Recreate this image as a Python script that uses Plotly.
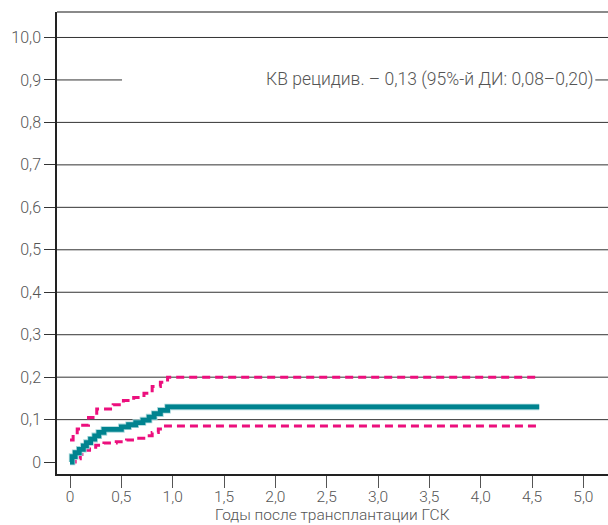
import plotly.graph_objects as go

# ---- data ----
time_cir = [0, 0.02, 0.05, 0.09, 0.13, 0.16, 0.20, 0.24, 0.28, 0.33, 0.50, 0.57, 0.64, 0.71, 0.77, 0.82, 0.88, 0.95, 4.57]
cir = [0.0, 0.013, 0.022, 0.030, 0.038, 0.046, 0.054, 0.062, 0.070, 0.077, 0.083, 0.088, 0.093, 0.099, 0.106, 0.114, 0.122, 0.130, 0.130]

time_up = [0.0, 0.03, 0.07, 0.10, 0.18, 0.26, 0.42, 0.52, 0.62, 0.72, 0.80, 0.88, 0.95, 4.57]
upper = [0.052, 0.064, 0.078, 0.087, 0.105, 0.125, 0.135, 0.145, 0.152, 0.162, 0.178, 0.188, 0.200, 0.200]

time_lo = [0.0, 0.05, 0.10, 0.14, 0.19, 0.25, 0.33, 0.45, 0.55, 0.65, 0.74, 0.80, 0.86, 0.93, 4.57]
lower = [0.0, 0.008, 0.018, 0.028, 0.035, 0.040, 0.045, 0.048, 0.052, 0.056, 0.062, 0.070, 0.078, 0.085, 0.085]

y_ticks = [0, 0.1, 0.2, 0.3, 0.4, 0.5, 0.6, 0.7, 0.8, 0.9, 1.0]
y_labels = ["0", "0,1", "0,2", "0,3", "0,4", "0,5", "0,6", "0,7", "0,8", "0,9", "10,0"]
x_ticks = [0, 0.5, 1.0, 1.5, 2.0, 2.5, 3.0, 3.5, 4.0, 4.5, 5.0]
x_labels = ["0", "0,5", "1,0", "1,5", "2,0", "2,5", "3,0", "3,5", "4,0", "4,5", "5,0"]

annotation_text = "КВ рецидив. – 0,13 (95%-й ДИ: 0,08–0,20)"
x_title = "Годы после трансплантации ГСК"

TEAL = "#00838f"
TEAL_EDGE = "#a6d6da"
PINK = "#ec0f7d"
TEXT = "#555555"
FONT = "Roboto"

fig = go.Figure()

dash = "8px,5px"
fig.add_trace(go.Scatter(x=time_lo, y=lower, mode="lines", line=dict(color=PINK, width=3, dash=dash, shape="hv"),
                         hoverinfo="skip"))
fig.add_trace(go.Scatter(x=time_up, y=upper, mode="lines", line=dict(color=PINK, width=3, dash=dash, shape="hv"),
                         hoverinfo="skip"))
fig.add_trace(go.Scatter(x=time_cir, y=cir, mode="lines", line=dict(color=TEAL_EDGE, width=6.5, shape="hv"),
                         hoverinfo="skip"))
fig.add_trace(go.Scatter(x=time_cir, y=cir, mode="lines", line=dict(color=TEAL, width=4.8, shape="hv"),
                         hoverinfo="skip"))

shapes = []
for v in y_ticks[1:]:
    if v == 0.9:
        shapes.append(dict(type="line", xref="paper", yref="y", x0=0, x1=0.118, y0=v, y1=v,
                           line=dict(color="#333333", width=1), layer="below"))
        shapes.append(dict(type="line", xref="paper", yref="y", x0=0.977, x1=1, y0=v, y1=v,
                           line=dict(color="#333333", width=1), layer="below"))
    else:
        shapes.append(dict(type="line", xref="paper", yref="y", x0=0, x1=1, y0=v, y1=v,
                           line=dict(color="#333333", width=1), layer="below"))
# top border
shapes.append(dict(type="line", xref="paper", yref="paper", x0=0, x1=1, y0=1, y1=1,
                   line=dict(color="#8a8a8a", width=2)))

fig.update_layout(
    width=608, height=525,
    margin=dict(l=57, r=0, t=12, b=51),
    paper_bgcolor="white", plot_bgcolor="white",
    showlegend=False,
    shapes=shapes,
    font=dict(family=FONT, color=TEXT, size=16, weight=300),
    xaxis=dict(
        range=[-0.127, 5.24],
        tickvals=x_ticks, ticktext=x_labels,
        ticks="outside", ticklen=12, tickcolor="#555555", tickwidth=1,
        tickfont=dict(family=FONT, size=15.5, color=TEXT, weight=300),
        ticklabelstandoff=-4,
        showgrid=False, zeroline=False,
        showline=True, linecolor="#222222", linewidth=1.5,
    ),
    yaxis=dict(
        range=[-0.028, 1.060],
        tickvals=y_ticks, ticktext=y_labels,
        ticks="outside", ticklen=11, tickcolor="#333333", tickwidth=1,
        tickfont=dict(family=FONT, size=16, color=TEXT, weight=300),
        showgrid=False, zeroline=False,
        showline=True, linecolor="#222222", linewidth=1.5,
    ),
    annotations=[
        dict(
            x=0.976, xref="paper", y=0.9, yref="y", xanchor="right", yanchor="middle",
            text=annotation_text, showarrow=False,
            font=dict(family=FONT, size=17.5, color=TEXT, weight=300),
        ),
        dict(
            x=0.5, xref="paper", y=-0.1104, yref="paper", xanchor="center", yanchor="bottom",
            text=x_title, showarrow=False, borderpad=0,
            font=dict(family=FONT, size=15.5, color=TEXT, weight=300),
        ),
    ],
)

fig.write_html("out.html")
